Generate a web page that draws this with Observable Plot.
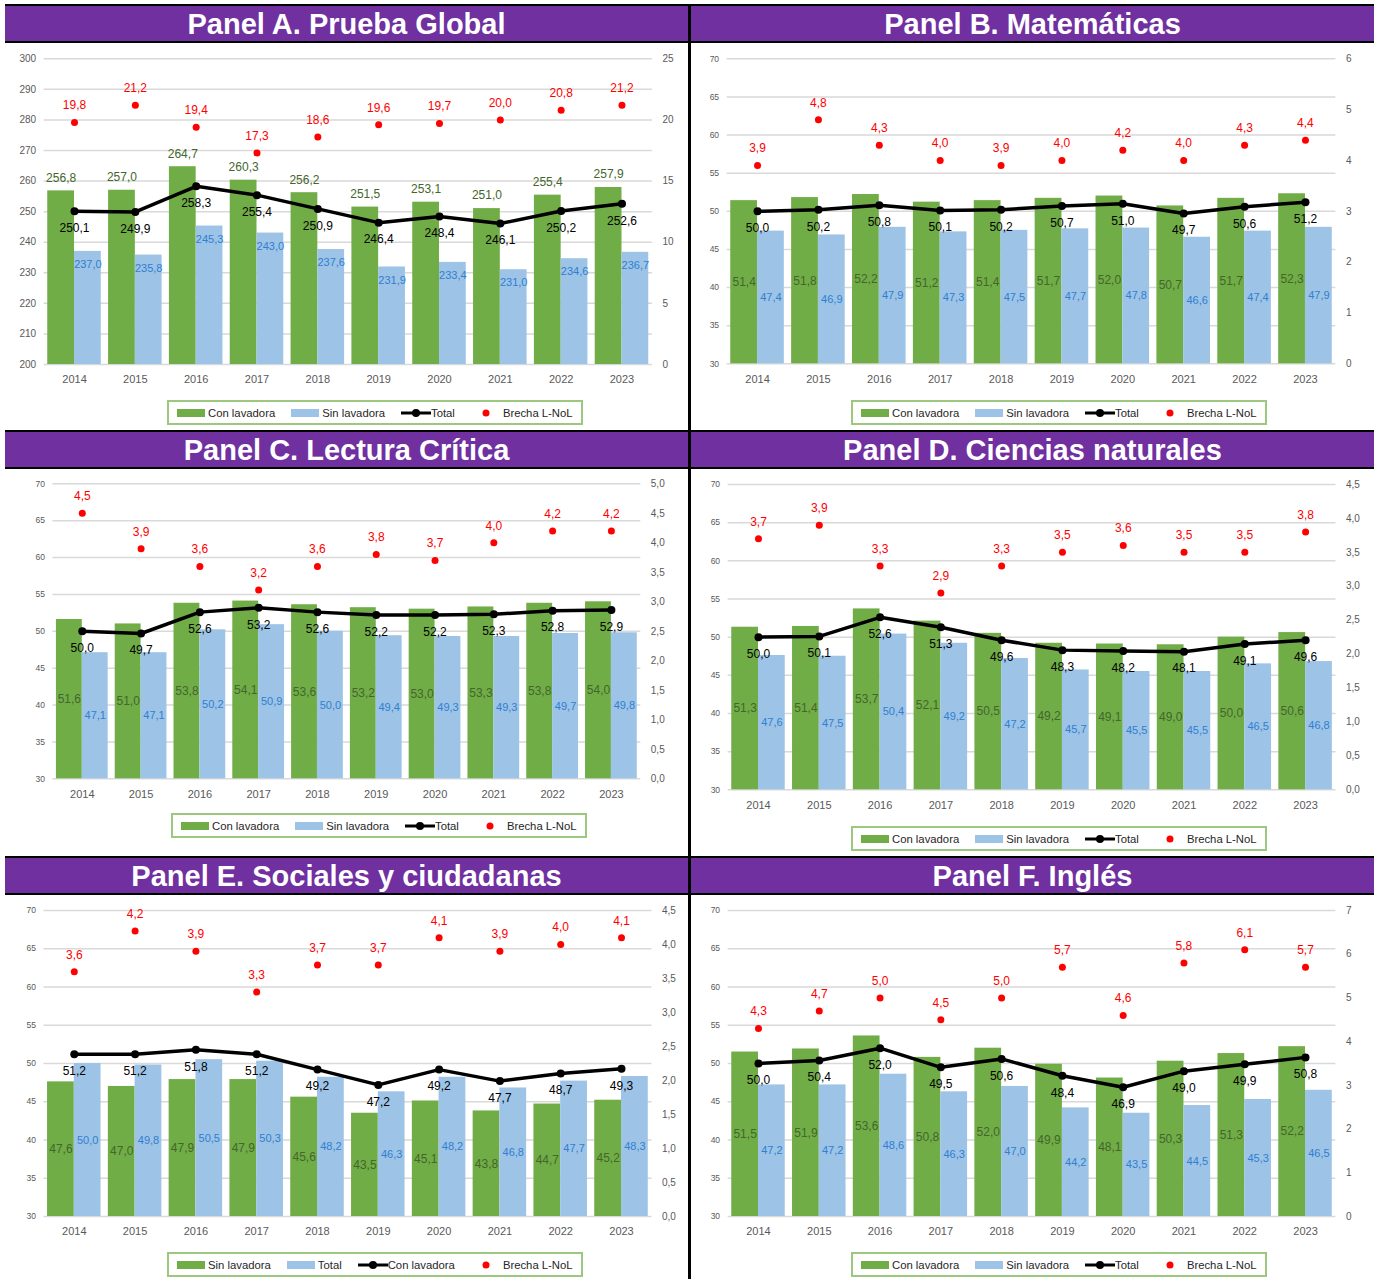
<!DOCTYPE html>
<html><head><meta charset="utf-8">
<script src="https://cdn.jsdelivr.net/npm/d3@7"></script>
<script src="https://cdn.jsdelivr.net/npm/@observablehq/plot@0.6"></script>
<style>
body{margin:0;background:#fff;}
#root{position:relative;width:1379px;height:1279px;overflow:hidden;font-family:"Liberation Sans",Arial,sans-serif;background:#fff;}
.blk{position:absolute;background:#000;}
.ttl{position:absolute;background:#7030A0;color:#fff;font-weight:bold;font-size:29px;text-align:center;white-space:nowrap;box-sizing:border-box;}
.leg{position:absolute;box-sizing:border-box;height:25px;border:2px solid #9CC77F;background:#fff;display:flex;align-items:center;padding:0 8px;gap:16px;font-size:11.3px;color:#262626;white-space:nowrap;}
.item{display:flex;align-items:center;}
.sw{display:inline-block;width:28px;height:8px;margin-right:3px;}
.plot{position:absolute;}
</style></head><body><div id="root"></div>
<script>
// ---------- DATA ----------
const years = ["2014","2015","2016","2017","2018","2019","2020","2021","2022","2023"];

const globalCon    = [256.8, 257.0, 264.7, 260.3, 256.2, 251.5, 253.1, 251.0, 255.4, 257.9];
const globalSin    = [237.0, 235.8, 245.3, 243.0, 237.6, 231.9, 233.4, 231.0, 234.6, 236.7];
const globalTotal  = [250.1, 249.9, 258.3, 255.4, 250.9, 246.4, 248.4, 246.1, 250.2, 252.6];
const globalBrecha = [19.8, 21.2, 19.4, 17.3, 18.6, 19.6, 19.7, 20.0, 20.8, 21.2];

const matCon    = [51.4, 51.8, 52.2, 51.2, 51.4, 51.7, 52.0, 50.7, 51.7, 52.3];
const matSin    = [47.4, 46.9, 47.9, 47.3, 47.5, 47.7, 47.8, 46.6, 47.4, 47.9];
const matTotal  = [50.0, 50.2, 50.8, 50.1, 50.2, 50.7, 51.0, 49.7, 50.6, 51.2];
const matBrecha = [3.9, 4.8, 4.3, 4.0, 3.9, 4.0, 4.2, 4.0, 4.3, 4.4];

const lecCon    = [51.6, 51.0, 53.8, 54.1, 53.6, 53.2, 53.0, 53.3, 53.8, 54.0];
const lecSin    = [47.1, 47.1, 50.2, 50.9, 50.0, 49.4, 49.3, 49.3, 49.7, 49.8];
const lecTotal  = [50.0, 49.7, 52.6, 53.2, 52.6, 52.2, 52.2, 52.3, 52.8, 52.9];
const lecBrecha = [4.5, 3.9, 3.6, 3.2, 3.6, 3.8, 3.7, 4.0, 4.2, 4.2];

const cienCon    = [51.3, 51.4, 53.7, 52.1, 50.5, 49.2, 49.1, 49.0, 50.0, 50.6];
const cienSin    = [47.6, 47.5, 50.4, 49.2, 47.2, 45.7, 45.5, 45.5, 46.5, 46.8];
const cienTotal  = [50.0, 50.1, 52.6, 51.3, 49.6, 48.3, 48.2, 48.1, 49.1, 49.6];
const cienBrecha = [3.7, 3.9, 3.3, 2.9, 3.3, 3.5, 3.6, 3.5, 3.5, 3.8];

// Panel E: green = Sin lavadora, blue = Total, line = Con lavadora
const socSin    = [47.6, 47.0, 47.9, 47.9, 45.6, 43.5, 45.1, 43.8, 44.7, 45.2];
const socTotal  = [50.0, 49.8, 50.5, 50.3, 48.2, 46.3, 48.2, 46.8, 47.7, 48.3];
const socCon    = [51.2, 51.2, 51.8, 51.2, 49.2, 47.2, 49.2, 47.7, 48.7, 49.3];
const socBrecha = [3.6, 4.2, 3.9, 3.3, 3.7, 3.7, 4.1, 3.9, 4.0, 4.1];

const ingCon    = [51.5, 51.9, 53.6, 50.8, 52.0, 49.9, 48.1, 50.3, 51.3, 52.2];
const ingSin    = [47.2, 47.2, 48.6, 46.3, 47.0, 44.2, 43.5, 44.5, 45.3, 46.5];
const ingTotal  = [50.0, 50.4, 52.0, 49.5, 50.6, 48.4, 46.9, 49.0, 49.9, 50.8];
const ingBrecha = [4.3, 4.7, 5.0, 4.5, 5.0, 5.7, 4.6, 5.8, 6.1, 5.7];

const titles = ["Panel A. Prueba Global","Panel B. Matemáticas","Panel C. Lectura Crítica","Panel D. Ciencias naturales","Panel E. Sociales y ciudadanas","Panel F. Inglés"];
const legendStd = ["Con lavadora","Sin lavadora","Total","Brecha L-NoL"];
const legendSoc = ["Sin lavadora","Total","Con lavadora","Brecha L-NoL"];

// ---------- STYLE ----------
const GREEN = "#70AD47", BLUE = "#9DC3E6", GREEN_TXT = "#44662B", BLUE_TXT = "#2F80D0", RED = "#FF0000";
const PAD = 0.12;
const fmt1 = v => v.toFixed(1).replace(".", ",");

const panels = [
  {title: titles[0], green: globalCon, blue: globalSin, line: globalTotal, red: globalBrecha, legend: legendStd,
   yDomain: [200, 300], yStep: 10, rMax: 25, rStep: 5, rDec: false, mode: "A", leftFont: 10,
   box: [5, 43, 683, 352], plot: [43.6, 651.9, 58.3, 364], leg: [167, 400]},
  {title: titles[1], green: matCon, blue: matSin, line: matTotal, red: matBrecha, legend: legendStd,
   yDomain: [30, 70], yStep: 5, rMax: 6, rStep: 1, rDec: false, mode: "mid", leftFont: 8.5,
   box: [691, 43, 683, 352], plot: [726.6, 1335.4, 58.3, 363.3], leg: [851, 400]},
  {title: titles[2], green: lecCon, blue: lecSin, line: lecTotal, red: lecBrecha, legend: legendStd,
   yDomain: [30, 70], yStep: 5, rMax: 5, rStep: 0.5, rDec: true, mode: "mid", leftFont: 8.5,
   box: [5, 469, 683, 343], plot: [52.4, 640.3, 483.3, 778.3], leg: [171, 813]},
  {title: titles[3], green: cienCon, blue: cienSin, line: cienTotal, red: cienBrecha, legend: legendStd,
   yDomain: [30, 70], yStep: 5, rMax: 4.5, rStep: 0.5, rDec: true, mode: "mid", leftFont: 8.5,
   box: [691, 469, 683, 356], plot: [727.6, 1335.5, 484, 789.3], leg: [851, 826]},
  {title: titles[4], green: socSin, blue: socTotal, line: socCon, red: socBrecha, legend: legendSoc,
   yDomain: [30, 70], yStep: 5, rMax: 4.5, rStep: 0.5, rDec: true, mode: "mid", leftFont: 8.5,
   box: [5, 895, 683, 356], plot: [43.4, 651.4, 910, 1216], leg: [167, 1252]},
  {title: titles[5], green: ingCon, blue: ingSin, line: ingTotal, red: ingBrecha, legend: legendStd,
   yDomain: [30, 70], yStep: 5, rMax: 7, rStep: 1, rDec: false, mode: "mid", leftFont: 8.5,
   box: [691, 895, 683, 356], plot: [727.6, 1335.4, 910, 1216], leg: [851, 1252]}
];

const root = document.getElementById("root");

function rect(cls, x, y, w, h, text) {
  const d = document.createElement("div");
  d.className = cls;
  Object.assign(d.style, {left: x + "px", top: y + "px", width: w + "px", height: h + "px"});
  if (text) { d.textContent = text; d.style.lineHeight = (h - 1) + "px"; d.style.paddingTop = "1px"; }
  root.appendChild(d);
  return d;
}

// title bars & borders
const rowTops = [4, 430, 856];
rowTops.forEach((t, r) => {
  rect("blk", 5, t, 1369, 2);
  rect("ttl", 5, t + 2, 683, 35, titles[r * 2]);
  rect("ttl", 691, t + 2, 683, 35, titles[r * 2 + 1]);
  rect("blk", 5, t + 37, 1369, 2);
});
rect("blk", 688, 4, 3, 1275);

function makePanel(cfg) {
  const [lo, hi] = cfg.yDomain;
  const rMax = cfg.rMax;
  const toL = b => lo + b / rMax * (hi - lo);
  const fromL = v => (v - lo) / (hi - lo) * rMax;
  const rows = years.map((year, i) => ({year, g: cfg.green[i], b: cfg.blue[i], t: cfg.line[i], r: cfg.red[i]}));
  const [bx, by, W, H] = cfg.box;
  const [x0, x1, y0, y1] = cfg.plot;
  const step = (x1 - x0) / years.length;
  const bw = step * (1 - PAD);
  const leftTicks = d3.range(lo, hi + 1e-6, cfg.yStep);
  const rightTicks = d3.range(0, rMax + 1e-6, cfg.rStep).map(toL);

  const labels = cfg.mode === "A" ? [
    Plot.text(rows, {x: "year", y: "g", text: d => fmt1(d.g), dx: -bw / 4, dy: -13, fill: GREEN_TXT, fontSize: 12}),
    Plot.text(rows, {x: "year", y: "b", text: d => fmt1(d.b), dx: bw / 4, dy: 13, fill: BLUE_TXT, fontSize: 11})
  ] : [
    Plot.text(rows, {x: "year", y: d => (lo + d.g) / 2, text: d => fmt1(d.g), dx: -bw / 4, fill: GREEN_TXT, fontSize: 12}),
    Plot.text(rows, {x: "year", y: d => (lo + d.b) / 2, text: d => fmt1(d.b), dx: bw / 4, fill: BLUE_TXT, fontSize: 11})
  ];

  const svg = Plot.plot({
    width: W, height: H,
    marginLeft: x0 - bx, marginRight: bx + W - x1,
    marginTop: y0 - by, marginBottom: by + H - y1,
    style: {fontFamily: "'Liberation Sans', Arial, sans-serif", color: "#595959", background: "transparent", overflow: "visible"},
    x: {type: "band", domain: years, paddingInner: PAD, paddingOuter: PAD / 2, round: false, label: null},
    y: {domain: [lo, hi], label: null},
    marks: [
      Plot.gridY({ticks: leftTicks, stroke: "#D9D9D9", strokeOpacity: 1, strokeWidth: 1.5}),
      Plot.axisY({ticks: leftTicks, anchor: "left", tickSize: 0, tickPadding: 8, fontSize: cfg.leftFont, fill: "#595959", label: null, tickFormat: d => String(Math.round(d))}),
      Plot.axisY({ticks: rightTicks, anchor: "right", tickSize: 0, tickPadding: 10, fontSize: 10, fill: "#595959", label: null,
        tickFormat: v => cfg.rDec ? fmt1(fromL(v)) : String(Math.round(fromL(v)))}),
      Plot.axisX({tickSize: 0, tickPadding: 11, fontSize: 11, fill: "#595959", label: null}),
      Plot.barY(rows, {x: "year", y1: lo, y2: "g", fill: GREEN, insetRight: bw / 2}),
      Plot.barY(rows, {x: "year", y1: lo, y2: "b", fill: BLUE, insetLeft: bw / 2}),
      Plot.line(rows, {x: "year", y: "t", stroke: "#000", strokeWidth: 3.5}),
      Plot.dot(rows, {x: "year", y: "t", r: 4, fill: "#000"}),
      Plot.dot(rows, {x: "year", y: d => toL(d.r), r: 3.5, fill: RED}),
      ...labels,
      Plot.text(rows, {x: "year", y: "t", text: d => fmt1(d.t), dy: 17, fill: "#000", fontSize: 12}),
      Plot.text(rows, {x: "year", y: d => toL(d.r), text: d => fmt1(d.r), dy: -17, fill: RED, fontSize: 12})
    ]
  });
  svg.classList.add("plot");
  svg.style.position = "absolute";
  svg.style.left = bx + "px";
  svg.style.top = by + "px";
  root.appendChild(svg);

  // legend
  const leg = document.createElement("div");
  leg.className = "leg";
  leg.style.left = cfg.leg[0] + "px";
  leg.style.top = cfg.leg[1] + "px";
  const kinds = ["bar", "bar", "line", "dot"];
  const cols = [GREEN, BLUE];
  cfg.legend.forEach((lab, i) => {
    const it = document.createElement("div");
    it.className = "item";
    let mk;
    if (kinds[i] === "bar") {
      mk = document.createElement("span");
      mk.className = "sw";
      mk.style.background = cols[i];
    } else {
      const ns = "http://www.w3.org/2000/svg";
      mk = document.createElementNS(ns, "svg");
      mk.setAttribute("width", 30); mk.setAttribute("height", 10);
      if (kinds[i] === "line") {
        const l = document.createElementNS(ns, "line");
        l.setAttribute("x1", 0); l.setAttribute("x2", 30); l.setAttribute("y1", 5); l.setAttribute("y2", 5);
        l.setAttribute("stroke", "#000"); l.setAttribute("stroke-width", 3);
        mk.appendChild(l);
        const c = document.createElementNS(ns, "circle");
        c.setAttribute("cx", 15); c.setAttribute("cy", 5); c.setAttribute("r", 4); c.setAttribute("fill", "#000");
        mk.appendChild(c);
      } else {
        const c = document.createElementNS(ns, "circle");
        c.setAttribute("cx", 15); c.setAttribute("cy", 5); c.setAttribute("r", 3.5); c.setAttribute("fill", RED);
        mk.appendChild(c);
        mk.style.marginRight = "2px";
      }
    }
    it.appendChild(mk);
    const sp = document.createElement("span");
    sp.textContent = lab;
    it.appendChild(sp);
    leg.appendChild(it);
  });
  root.appendChild(leg);
}

panels.forEach(makePanel);
</script></body></html>
